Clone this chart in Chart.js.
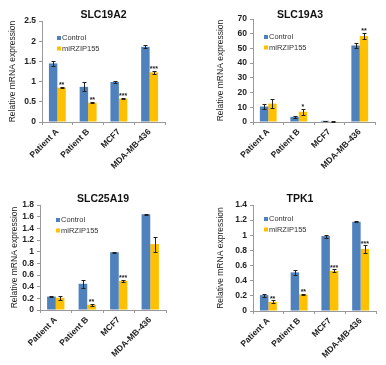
<!DOCTYPE html>
<html>
<head>
<meta charset="utf-8">
<script src="https://cdn.jsdelivr.net/npm/chart.js@4.4.0/dist/chart.umd.min.js"></script>
<style>
  body { margin: 0; background: #fff; }
  canvas { position: absolute; }
</style>
</head>
<body>
<canvas id="g1" width="193" height="182" style="left:0;top:0"></canvas>
<canvas id="g2" width="193" height="182" style="left:193px;top:0"></canvas>
<canvas id="g3" width="193" height="183" style="left:0;top:182px"></canvas>
<canvas id="g4" width="193" height="183" style="left:193px;top:182px"></canvas>
<script>
// Datos
const categorias = ['Patient A', 'Patient B', 'MCF7', 'MDA-MB-436'];
const series = ['Control', 'miRZIP155'];

const slc19a2Control = [1.45, 0.87, 0.99, 1.86];
const slc19a2ControlErr = [0.06, 0.11, 0.02, 0.04];
const slc19a2Mirzip = [0.85, 0.48, 0.58, 1.23];
const slc19a2MirzipErr = [0.02, 0.02, 0.02, 0.04];
const slc19a2Signif = ['**', '**', '***', '***'];

const slc19a3Control = [10.5, 3.5, 0.8, 52];
const slc19a3ControlErr = [2, 0.5, 0.2, 1.5];
const slc19a3Mirzip = [12.5, 7, 0.5, 58.5];
const slc19a3MirzipErr = [3, 2, 0.2, 2];
const slc19a3Signif = ['', '*', '', '**'];

const slc25a19Control = [0.23, 0.45, 0.99, 1.64];
const slc25a19ControlErr = [0.01, 0.07, 0.01, 0.01];
const slc25a19Mirzip = [0.21, 0.09, 0.50, 1.13];
const slc25a19MirzipErr = [0.03, 0.02, 0.02, 0.13];
const slc25a19Signif = ['', '**', '***', ''];

const tpk1Control = [0.21, 0.51, 0.99, 1.18];
const tpk1ControlErr = [0.02, 0.03, 0.02, 0.01];
const tpk1Mirzip = [0.12, 0.22, 0.53, 0.82];
const tpk1MirzipErr = [0.02, 0.01, 0.02, 0.05];
const tpk1Signif = ['**', '**', '***', '***'];

const azul = '#4F81BD';
const amarillo = '#FFC000';
const fuente = 'Liberation Sans, Arial, sans-serif';

// Barras de error, asteriscos y leyenda dentro del área
const pluginExtras = {
    id: 'extras',
    afterDatasetsDraw(chart, args, opts) {
        const ctx = chart.ctx;
        const y = chart.scales.y;
        ctx.save();
        ctx.strokeStyle = '#222';
        ctx.lineWidth = 1;
        chart.data.datasets.forEach((ds, i) => {
            chart.getDatasetMeta(i).data.forEach((bar, j) => {
                const v = ds.data[j], e = ds.errores[j];
                const arriba = Math.round(y.getPixelForValue(v + e)) + 0.5;
                const abajo = Math.round(y.getPixelForValue(v - e)) + 0.5;
                const x = Math.round(bar.x) + 0.5;
                ctx.beginPath();
                ctx.moveTo(x, arriba); ctx.lineTo(x, abajo);
                ctx.moveTo(x - 2, arriba); ctx.lineTo(x + 2, arriba);
                ctx.moveTo(x - 2, abajo); ctx.lineTo(x + 2, abajo);
                ctx.stroke();
            });
        });
        // asteriscos sobre la serie miRZIP155
        const ds = chart.data.datasets[1];
        ctx.fillStyle = '#222';
        ctx.font = 'bold 7px ' + fuente;
        ctx.textAlign = 'center';
        ctx.textBaseline = 'bottom';
        chart.getDatasetMeta(1).data.forEach((bar, j) => {
            const s = opts.signif[j];
            if (!s) return;
            ctx.fillText(s, bar.x, y.getPixelForValue(ds.data[j] + ds.errores[j]) + 2);
        });
        // leyenda
        const area = chart.chartArea;
        ctx.font = '7.5px ' + fuente;
        ctx.textAlign = 'left';
        ctx.textBaseline = 'middle';
        chart.data.datasets.forEach((d, i) => {
            const lx = area.left + opts.leyendaX;
            const ly = area.top + opts.leyendaY + i * 10.5;
            ctx.fillStyle = d.backgroundColor;
            ctx.fillRect(lx - 2, ly - 2, 4, 4);
            ctx.fillStyle = '#333';
            ctx.fillText(d.label, lx + 3, ly);
        });
        ctx.restore();
    }
};

function crearPanel(id, titulo, control, controlErr, mirzip, mirzipErr, signif, geo) {
    new Chart(document.getElementById(id), {
        type: 'bar',
        data: {
            labels: categorias,
            datasets: [
                { label: series[0], data: control, errores: controlErr, backgroundColor: azul },
                { label: series[1], data: mirzip, errores: mirzipErr, backgroundColor: amarillo }
            ]
        },
        options: {
            responsive: false,
            animation: false,
            devicePixelRatio: 1,
            layout: { padding: { left: geo.pl, right: geo.pr, top: 0, bottom: 0 } },
            datasets: { bar: { categoryPercentage: 0.55, barPercentage: 1 } },
            plugins: {
                legend: { display: false },
                tooltip: { enabled: false },
                title: {
                    display: true,
                    text: titulo,
                    fullSize: geo.tituloCompleto,
                    color: '#111',
                    font: { family: fuente, size: 10.5, weight: 'bold' },
                    padding: { top: geo.tTop, bottom: geo.tBottom }
                },
                extras: { signif: signif, leyendaX: geo.lx, leyendaY: geo.ly }
            },
            scales: {
                x: {
                    grid: { display: true, drawOnChartArea: false, offset: true, tickLength: 3, color: '#999' },
                    border: { color: '#999' },
                    ticks: {
                        minRotation: 45,
                        maxRotation: 45,
                        padding: 2,
                        color: '#222',
                        font: { family: fuente, size: 8.5, weight: 'bold' }
                    },
                    afterFit: s => { s.height = geo.altoX; }
                },
                y: {
                    min: 0,
                    max: geo.max,
                    grid: { drawOnChartArea: false, tickLength: 3, color: '#999' },
                    border: { color: '#999' },
                    ticks: {
                        stepSize: geo.paso,
                        autoSkip: false,
                        padding: 3,
                        color: '#222',
                        font: { family: fuente, size: 8.5, weight: 'bold' },
                        callback: v => String(parseFloat(v.toFixed(2)))
                    },
                    title: {
                        display: true,
                        text: 'Relative mRNA expression',
                        color: '#222',
                        font: { family: fuente, size: 8.5 },
                        padding: { top: geo.yPad, bottom: 0 }
                    },
                    afterFit: s => { s.width = geo.anchoY; }
                }
            }
        },
        plugins: [pluginExtras]
    });
}

crearPanel('g1', 'SLC19A2', slc19a2Control, slc19a2ControlErr, slc19a2Mirzip, slc19a2MirzipErr, slc19a2Signif,
    { max: 2.5, paso: 0.5, pl: 0, pr: 28, anchoY: 42, yPad: 8, tituloCompleto: false, tTop: 8.7, tBottom: -0.3, altoX: 60, lx: 17, ly: 17 });

crearPanel('g2', 'SLC19A3', slc19a3Control, slc19a3ControlErr, slc19a3Mirzip, slc19a3MirzipErr, slc19a3Signif,
    { max: 70, paso: 10, pl: 32, pr: 11, anchoY: 28, yPad: -9, tituloCompleto: true, tTop: 8.7, tBottom: -2.3, altoX: 60, lx: 13, ly: 18 });

crearPanel('g3', 'SLC25A19', slc25a19Control, slc25a19ControlErr, slc25a19Mirzip, slc25a19MirzipErr, slc25a19Signif,
    { max: 1.8, paso: 0.2, pl: 0, pr: 27, anchoY: 40, yPad: 10, tituloCompleto: false, tTop: 10.7, tBottom: -0.3, altoX: 55, lx: 18, ly: 15 });

crearPanel('g4', 'TPK1', tpk1Control, tpk1ControlErr, tpk1Mirzip, tpk1MirzipErr, tpk1Signif,
    { max: 1.4, paso: 0.2, pl: 31, pr: 10, anchoY: 29, yPad: -8, tituloCompleto: true, tTop: 10.7, tBottom: -0.3, altoX: 54, lx: 13, ly: 14 });
</script>
</body>
</html>
